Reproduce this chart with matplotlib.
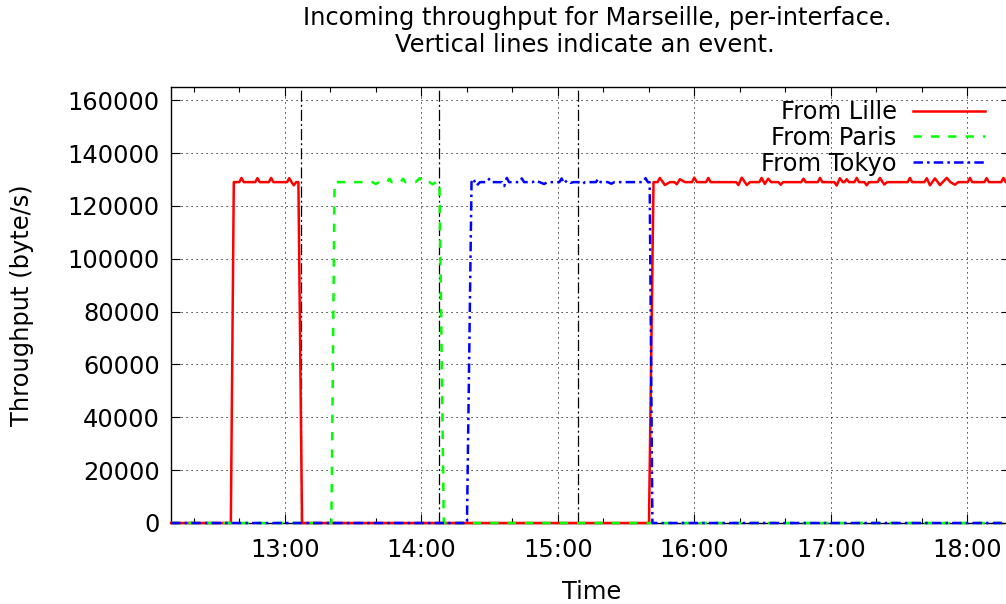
import datetime as dt
import matplotlib
matplotlib.use("Agg")
import matplotlib.pyplot as plt
import matplotlib.dates as mdates

plt.rcParams['font.family'] = ['DejaVu Sans']
plt.rcParams['lines.scale_dashes'] = False
FS = 17.4

START = dt.datetime(2000, 1, 1, 12, 10)

title_line1 = "Incoming throughput for Marseille, per-interface."
title_line2 = "Vertical lines indicate an event."
x_label = "Time"
y_label = "Throughput (byte/s)"
series_names = ["From Lille", "From Paris", "From Tokyo"]

# (minutes after 12:10, bytes/s)
lille_points = [
    (0, 0), (26.3, 0), (27.6, 129000),
    (30, 129000), (31, 130600), (32, 129000),
    (37, 129000), (38, 130500), (39, 129000),
    (43, 129000), (44, 130600), (45, 129000),
    (51, 129000), (52, 130500), (53, 129000), (54, 127800), (55, 129000), (56, 129000),
    (57.6, 0), (210.1, 0), (212.1, 129000),
    (213.9, 129000), (214.9, 130600), (217.1, 127900), (219.3, 129000),
    (221.3, 129000), (222.3, 128200), (223.7, 130100), (225.9, 129000),
    (229, 129000), (230, 130700), (231.2, 129000),
    (235.2, 129000), (236.2, 130600), (237.2, 129000),
    (248.4, 129000), (249.4, 127900), (250.9, 130700), (253.1, 127900), (254.5, 129000),
    (258.6, 129000), (259.6, 130600), (261, 128300), (262.5, 130300), (263.8, 129000),
    (267, 129000), (268, 128000), (269, 129000),
    (277, 129000), (278, 130300), (279, 129000),
    (284.3, 129000), (285.3, 130600), (286.3, 129000),
    (291.6, 129000), (292.6, 127700), (294, 130500), (295.3, 129000),
    (296, 129000), (297, 130100), (298, 129000),
    (300.4, 129000), (301.4, 130600), (302.4, 129000),
    (304.8, 129000), (305.8, 127800), (306.8, 129000),
    (310.6, 129000), (311.6, 130600), (313.5, 128100), (314.8, 129000),
    (323.8, 129000), (324.8, 130600), (325.8, 129000),
    (331.2, 129000), (332.2, 130500), (333.6, 127800), (335.8, 130400), (338, 127900),
    (341, 130600), (342.6, 129000), (344.6, 128000), (346, 129000),
    (350.2, 129000), (351.2, 130600), (352.2, 129000),
    (357.5, 129000), (358.5, 130500), (359.5, 129000),
    (364.9, 129000), (365.9, 130600), (366.9, 129000),
    (372, 129000),
]

paris_points = [
    (0, 0), (70.5, 0), (71.9, 129000),
    (88.5, 129000), (90, 128300), (91.5, 129000),
    (95, 129000), (96, 130300), (97, 129000),
    (101, 129000), (102, 130300), (103, 129000),
    (107.5, 129000), (109.3, 130500), (110.3, 129000),
    (113.5, 129000), (115, 128200), (116.5, 129000),
    (118, 129000), (119.9, 0), (372, 0),
]

tokyo_points = [
    (0, 0), (130.1, 0), (132.1, 129000), (132.8, 130300), (134.4, 127700), (135.8, 129000),
    (138.8, 129000), (139.8, 130200), (140.8, 129000),
    (145.5, 129000), (146.5, 127500), (147.6, 130600), (148.6, 129000),
    (153.2, 129000), (154.2, 130400), (155.2, 129000),
    (159, 129000), (160, 129600), (162, 129000), (164, 128300), (165.5, 129000),
    (170.7, 129000), (171.7, 130400), (172.7, 128500), (174, 129600), (175.5, 128700), (177, 129000),
    (180, 129000), (181, 128400), (182, 129000),
    (186.8, 129000), (187.8, 130300), (188.8, 129000),
    (192, 129000), (193.5, 128400), (195, 129000),
    (207.5, 129000), (208.6, 130500), (209.6, 129000), (210.4, 129000),
    (211.6, 0), (372, 0),
]

event_times = ["13:07", "14:08", "15:09"]

y_ticks = [0, 20000, 40000, 60000, 80000, 100000, 120000, 140000, 160000]


def to_xy(points):
    xs = [START + dt.timedelta(minutes=m) for m, _ in points]
    ys = [v for _, v in points]
    return xs, ys


W, H = 1006, 604
fig = plt.figure(figsize=(W / 100, H / 100), dpi=100)
ax_left, ax_right, ax_top, ax_bottom = 171, 1010, 87, 523
ax = fig.add_axes([ax_left / W, 1 - ax_bottom / H, (ax_right - ax_left) / W, (ax_bottom - ax_top) / H])

x_max_min = (ax_right - ax_left) / 2.275
ax.set_xlim(START, START + dt.timedelta(minutes=x_max_min))
ax.set_ylim(0, 165000)

grid_kw = dict(color='black', linewidth=0.7, linestyle=(0, (0.8, 2.8)))
ax.grid(True, which='major', axis='both', **grid_kw)
ax.set_axisbelow(True)

for et in event_times:
    h, m = map(int, et.split(':'))
    ax.axvline(dt.datetime(2000, 1, 1, h, m), color='black', linewidth=0.9,
               linestyle=(0, (8, 2.2, 1.4, 2.2)), zorder=1.5)

styles = [
    dict(color='#ff0000', linestyle='-'),
    dict(color='#00ff00', linestyle=(0, (6, 6.5))),
    dict(color='#0000ff', linestyle=(0, (6.8, 3.0, 1.8, 3.0))),
]
for pts, name, st in zip([lille_points, paris_points, tokyo_points], series_names, styles):
    xs, ys = to_xy(pts)
    ax.plot(xs, ys, linewidth=1.8, label=name, clip_on=False, zorder=3, **st)

ax.xaxis.set_major_locator(mdates.HourLocator())
ax.xaxis.set_minor_locator(mdates.MinuteLocator(byminute=[20, 40]))
ax.xaxis.set_major_formatter(mdates.DateFormatter('%H:%M'))
ax.set_yticks(y_ticks)
ax.set_yticklabels([str(v) for v in y_ticks])

ax.tick_params(axis='both', which='major', direction='in', length=6.5, width=0.8,
               labelsize=FS, top=True, right=True)
ax.tick_params(axis='x', which='major', pad=10.5)
ax.tick_params(axis='y', which='major', pad=8)
ax.tick_params(axis='x', which='minor', direction='in', length=3.5, width=0.8, top=True)
for s in ax.spines.values():
    s.set_linewidth(1.0)

leg = ax.legend(loc='upper right', bbox_to_anchor=(985 / W, 1 - 100 / H),
                bbox_transform=fig.transFigure, frameon=False, markerfirst=False,
                fontsize=FS, handlelength=3.0, handletextpad=0.66,
                labelspacing=0.08, borderpad=0, borderaxespad=0)

fig.text(597.5 / W, 1 - 18 / H, title_line1, ha='center', va='center', fontsize=FS)
fig.text(584.5 / W, 1 - 45 / H, title_line2, ha='center', va='center', fontsize=FS)
fig.text(591.5 / W, 1 - 592 / H, x_label, ha='center', va='center', fontsize=FS)
fig.text(22 / W, 1 - 305 / H, y_label, ha='center', va='center', rotation=90, fontsize=FS)

fig.savefig('out.png', dpi=100)
